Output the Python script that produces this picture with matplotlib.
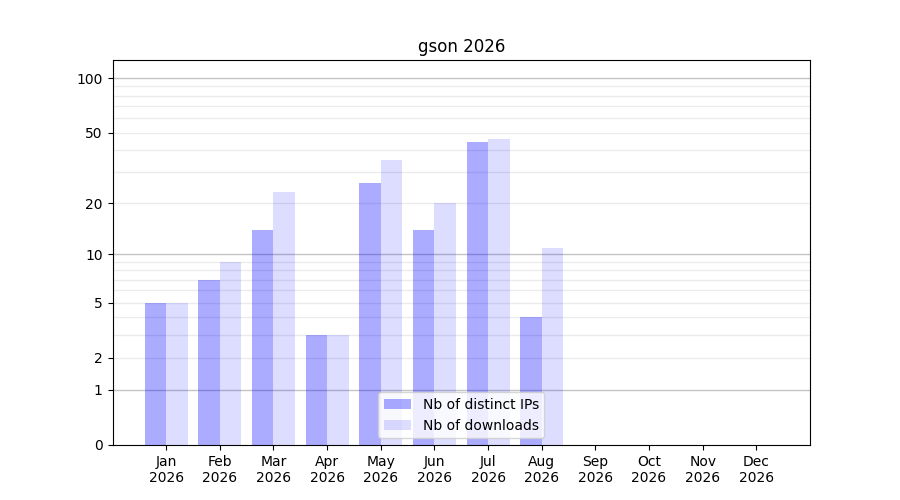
import numpy as np
import matplotlib
matplotlib.use("Agg")
import matplotlib.pyplot as plt
from matplotlib.ticker import FixedLocator, NullFormatter

# Daten
months = ["Jan", "Feb", "Mar", "Apr", "May", "Jun",
          "Jul", "Aug", "Sep", "Oct", "Nov", "Dec"]
year = "2026"
distinct_ips = [5, 7, 14, 3, 26, 14, 44, 4, 0, 0, 0, 0]
downloads = [5, 9, 23, 3, 35, 20, 46, 11, 0, 0, 0, 0]

major_ticks = [0, 1, 2, 5, 10, 20, 50, 100]
dark_grid = [1, 10, 100]
light_grid = [2, 3, 4, 5, 6, 7, 8, 9, 20, 30, 40, 50, 60, 70, 80, 90]


def forward(v):
    return np.log10(np.clip(v, 0, None) + 1)


def inverse(v):
    return 10 ** v - 1


fig, ax = plt.subplots(figsize=(9, 5), dpi=100)

x = np.arange(len(months))
width = 0.4
ax.bar(x - width / 2, distinct_ips, width, color="blue", alpha=0.33,
       label="Nb of distinct IPs", zorder=2)
ax.bar(x + width / 2, downloads, width, color="blue", alpha=0.135,
       label="Nb of downloads", zorder=2)

ax.set_yscale("function", functions=(forward, inverse))
ax.set_ylim(0, 126)
ax.set_xlim(-1, 12)

ax.yaxis.set_major_locator(FixedLocator(major_ticks))
ax.set_yticklabels([str(t) for t in major_ticks])
ax.yaxis.set_minor_locator(FixedLocator(light_grid))
ax.yaxis.set_minor_formatter(NullFormatter())
ax.tick_params(axis="y", which="minor", length=0)

# Gitter
for g in light_grid:
    ax.axhline(g, color="#ebebeb", linewidth=1, zorder=1)
for g in dark_grid:
    ax.axhline(g, color="#c4c4c4", linewidth=1, zorder=1)

ax.set_xticks(x)
ax.set_xticklabels([f"{m}\n{year}" for m in months])
ax.set_title("gson 2026")
ax.legend(loc="lower center")

plt.savefig("out.png", dpi=100)
